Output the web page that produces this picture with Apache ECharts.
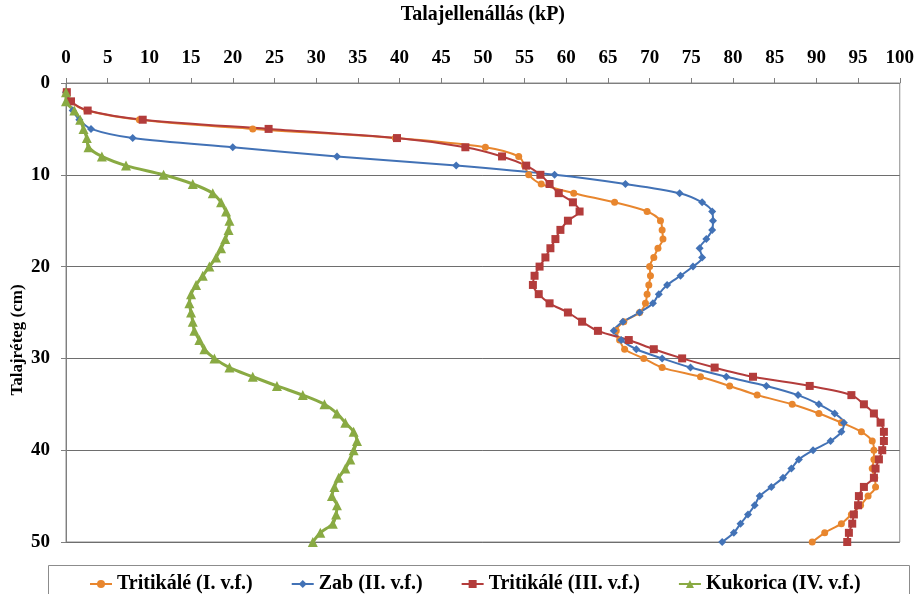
<!DOCTYPE html>
<html>
<head>
<meta charset="utf-8">
<script src="https://cdn.jsdelivr.net/npm/echarts@6/dist/echarts.min.js"></script>
<style>
  html, body { margin: 0; padding: 0; background: #fff; }
  #chart { width: 917px; height: 594px; }
</style>
</head>
<body>
<div id="chart"></div>
<script>
// Soil penetration resistance (kP) by depth (cm), one value per centimetre
const depths = Array.from({ length: 50 }, (_, i) => i + 1);

const tritikale1 = [0, 0.5, 2.5, 8.8, 22.4, 39.5, 50.3, 54.3, 55.0, 55.5,
  57.0, 60.9, 65.8, 69.7, 71.3, 71.5, 71.6, 71.0, 70.5, 70.0,
  70.1, 69.9, 69.7, 69.5, 68.8, 66.9, 66.0, 66.4, 67.0, 69.3,
  71.5, 76.1, 79.6, 82.9, 87.1, 90.3, 93.0, 95.4, 96.7, 96.9,
  96.9, 96.7, 97.0, 97.1, 96.2, 95.3, 94.2, 93.0, 91.0, 89.5];

const zab = [0, 0.2, 0.8, 1.6, 3.0, 8.0, 20.0, 32.5, 46.8, 58.6,
  67.1, 73.6, 76.3, 77.5, 77.6, 77.5, 76.8, 76.0, 76.3, 75.2,
  73.7, 72.1, 71.1, 70.4, 68.8, 66.8, 65.7, 66.6, 68.4, 71.5,
  74.9, 79.2, 84.0, 87.8, 90.3, 92.2, 93.3, 93.0, 91.7, 89.6,
  87.9, 87.0, 86.0, 84.6, 83.2, 82.6, 81.8, 80.9, 80.1, 78.7];

const tritikale3 = [0.1, 0.6, 2.6, 9.2, 24.3, 39.7, 47.9, 52.3, 55.2, 56.9,
  58.0, 59.1, 60.8, 61.6, 60.2, 59.3, 58.7, 58.1, 57.5, 56.8,
  56.2, 56.0, 56.7, 58.0, 60.2, 61.9, 63.8, 67.5, 70.5, 73.9,
  77.8, 82.4, 89.2, 94.2, 95.7, 96.9, 97.7, 98.1, 98.1, 97.9,
  97.5, 97.1, 96.9, 95.7, 95.1, 95.0, 94.5, 94.3, 93.9, 93.7];

const kukorica = [0, 0, 1.0, 1.7, 2.1, 2.5, 2.7, 4.3, 7.2, 11.7,
  15.2, 17.6, 18.6, 19.2, 19.6, 19.5, 19.1, 18.6, 18.0, 17.2,
  16.4, 15.6, 15.0, 14.8, 15.0, 15.2, 15.4, 16.0, 16.6, 17.8,
  19.6, 22.4, 25.3, 28.4, 31.0, 32.5, 33.5, 34.5, 34.9, 34.5,
  34.1, 33.5, 32.7, 32.2, 31.9, 32.5, 32.4, 32.0, 30.5, 29.6];

const seriesNames = ['Tritikálé (I. v.f.)', 'Zab (II. v.f.)', 'Tritikálé (III. v.f.)', 'Kukorica (IV. v.f.)'];
const xTitle = 'Talajellenállás (kP)';
const yTitle = 'Talajréteg (cm)';

const FONT = '"Liberation Serif", "Times New Roman", serif';

function pairs(values) {
  return values.map((v, i) => [v, depths[i]]);
}

function lineSeries(name, values, color, symbol, size, width) {
  return {
    name: name,
    type: 'line',
    data: pairs(values),
    smooth: 0.3,
    symbol: symbol,
    symbolSize: size,
    showSymbol: true,
    lineStyle: { color: color, width: width },
    itemStyle: { color: color },
    emphasis: { disabled: true },
    animation: false
  };
}

const chart = echarts.init(document.getElementById('chart'), null, { renderer: 'canvas' });

chart.setOption({
  backgroundColor: '#ffffff',
  animation: false,
  grid: {
    left: 66, right: 13, top: 80, bottom: 52,
    show: true, borderColor: '#8c8c8c', borderWidth: 1
  },
  xAxis: {
    type: 'value',
    position: 'top',
    min: 0, max: 100, interval: 5,
    name: xTitle,
    nameLocation: 'middle',
    nameGap: 58,
    nameTextStyle: { fontFamily: FONT, fontWeight: 'bold', fontSize: 20, color: '#000' },
    axisLine: { show: true, lineStyle: { color: '#7f7f7f', width: 1 } },
    axisTick: { show: true, inside: false, length: 5, lineStyle: { color: '#7f7f7f' } },
    axisLabel: { margin: 15, fontFamily: FONT, fontWeight: 'bold', fontSize: 19, color: '#000' },
    splitLine: { show: false }
  },
  yAxis: {
    type: 'value',
    inverse: true,
    min: 0, max: 50, interval: 10,
    axisLine: { show: true, lineStyle: { color: '#7f7f7f', width: 1 } },
    axisTick: { show: true, inside: false, length: 5, lineStyle: { color: '#7f7f7f' } },
    axisLabel: { margin: 16, fontFamily: FONT, fontWeight: 'bold', fontSize: 19, color: '#000' },
    splitLine: { show: true, lineStyle: { color: '#6e6e6e', width: 1 } }
  },
  legend: {
    data: seriesNames,
    left: 84,
    top: 569,
    padding: [5, 5, 5, 5],
    itemWidth: 22,
    itemHeight: 10,
    itemGap: 38,
    textStyle: { fontFamily: FONT, fontWeight: 'bold', fontSize: 20, color: '#000' }
  },
  graphic: [
    {
      type: 'rect',
      shape: { x: 48.5, y: 565.5, width: 861, height: 40 },
      style: { fill: 'none', stroke: '#8c8c8c', lineWidth: 1 },
      silent: true, z: -1
    },
    {
      type: 'text',
      x: 18, y: 340,
      rotation: Math.PI / 2,
      style: {
        text: yTitle,
        font: 'bold 17px ' + FONT,
        fill: '#000',
        textAlign: 'center',
        textVerticalAlign: 'middle'
      },
      silent: true
    }
  ],
  series: [
    lineSeries(seriesNames[0], tritikale1, '#E8862E', 'circle', 7, 2),
    lineSeries(seriesNames[1], zab, '#4272B6', 'diamond', 8, 2),
    lineSeries(seriesNames[2], tritikale3, '#B33C3B', 'rect', 8, 2),
    lineSeries(seriesNames[3], kukorica, '#89AA43', 'triangle', 10, 3)
  ]
});
</script>
</body>
</html>
